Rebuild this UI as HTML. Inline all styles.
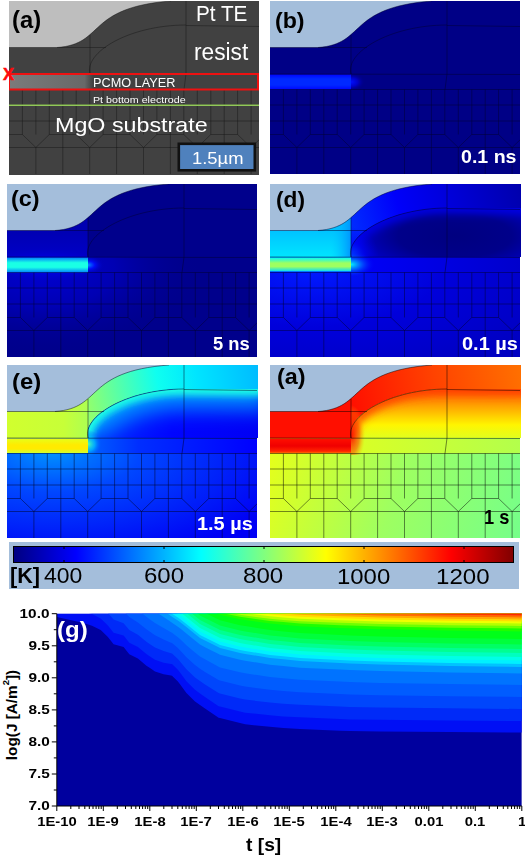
<!DOCTYPE html>
<html><head><meta charset="utf-8"><style>
html,body{margin:0;padding:0;background:#fff;}
body{width:525px;height:859px;position:relative;overflow:hidden;font-family:"Liberation Sans",sans-serif;}
.p{position:absolute;display:block;}
.t{position:absolute;white-space:nowrap;line-height:1;transform-origin:0 0;}
.lbl{font-weight:bold;font-size:23px;color:#000;}
.tm{font-weight:bold;font-size:18px;color:#fff;}
.ax{font-weight:bold;font-size:13.6px;color:#000;}
.axy{transform:scaleX(1.13);transform-origin:100% 50%;}
.axx{transform:scaleX(1.09);transform-origin:50% 50%;}
.ylab{font-weight:bold;font-size:15.3px;color:#000;transform:translate(-50%,-50%) rotate(-90deg);transform-origin:50% 50%;}
.ylab sup{font-size:9.5px;vertical-align:8.5px;line-height:0;}
</style></head><body>
<svg class="p" style="left:9px;top:1px;width:250px;height:174px" viewBox="0 0 250 174" preserveAspectRatio="none"><defs><linearGradient id="pa1" gradientUnits="userSpaceOnUse" x1="0" y1="0" x2="84" y2="0"><stop offset="0" stop-color="#7b7b7b"/><stop offset="0.9" stop-color="#686868"/><stop offset="1" stop-color="#414141"/></linearGradient></defs><rect x="0" y="0" width="250" height="174" fill="#414141"/><rect x="0" y="73" width="84" height="15.5" fill="url(#pa1)"/><path d="M0,0 L0,46.5 L48,46.5 C96.6,43.1 76.1,6.6 162,0 Z" fill="#BEBEBE"/><g fill="none" stroke="#181818" stroke-opacity="0.6" stroke-width="0.8"><path d="M81,73 C75,51.6 119.4,24.2 177,24"/><path d="M81,34 L81,73"/><path d="M0,46.5 L97,46.5"/><path d="M177,0 L177,73 L175,88.5"/><path d="M177,24.5 L250,25.5"/><path d="M0,73 L250,73.5"/><path d="M0,88.5 L250,88.5"/><path d="M0,104 L250,104"/><path d="M0,120 L250,120"/><path d="M0,146.5 L250,146.5"/><path d="M13.4,88.5 L13.4,133.5"/><path d="M26.9,88.5 L26.9,133.5"/><path d="M40.3,88.5 L40.3,133.5"/><path d="M53.8,88.5 L53.8,133.5"/><path d="M67.2,88.5 L67.2,133.5"/><path d="M80.7,88.5 L80.7,133.5"/><path d="M94.1,88.5 L94.1,133.5"/><path d="M107.6,88.5 L107.6,133.5"/><path d="M121.0,88.5 L121.0,133.5"/><path d="M134.5,88.5 L134.5,133.5"/><path d="M147.9,88.5 L147.9,133.5"/><path d="M161.4,88.5 L161.4,133.5"/><path d="M174.8,88.5 L174.8,133.5"/><path d="M188.3,88.5 L188.3,133.5"/><path d="M201.8,88.5 L201.8,133.5"/><path d="M215.2,88.5 L215.2,133.5"/><path d="M228.6,88.5 L228.6,133.5"/><path d="M242.1,88.5 L242.1,133.5"/><path d="M13.4,133.5 L26.9,146.5 L40.3,133.5"/><path d="M67.2,133.5 L80.7,146.5 L94.1,133.5"/><path d="M121.0,133.5 L134.5,146.5 L147.9,133.5"/><path d="M174.8,133.5 L188.3,146.5 L201.8,133.5"/><path d="M228.6,133.5 L242.1,146.5 L250,138.9"/><path d="M0.0,133.5 L13.4,133.5"/><path d="M40.3,133.5 L67.2,133.5"/><path d="M94.1,133.5 L121.0,133.5"/><path d="M147.9,133.5 L174.8,133.5"/><path d="M201.8,133.5 L228.6,133.5"/><path d="M26.9,146.5 L26.9,173"/><path d="M53.8,146.5 L53.8,173"/><path d="M80.7,146.5 L80.7,173"/><path d="M107.6,146.5 L107.6,173"/><path d="M134.5,146.5 L134.5,173"/><path d="M161.4,146.5 L161.4,173"/><path d="M188.3,146.5 L188.3,173"/><path d="M215.2,146.5 L215.2,173"/><path d="M242.1,146.5 L242.1,173"/><path d="M53.8,133.5 L53.8,146.5"/><path d="M107.6,133.5 L107.6,146.5"/><path d="M161.4,133.5 L161.4,146.5"/><path d="M215.2,133.5 L215.2,146.5"/><path d="M48,46.5 C96.6,43.1 76.1,6.6 162,0"/></g><path d="M0,104.3 L250,104.3" stroke="#92C958" stroke-width="1.5"/><rect x="0" y="73" width="249" height="15.5" fill="none" stroke="#EE1111" stroke-width="2"/><rect x="169.8" y="142.8" width="76" height="26.5" fill="#4F81BD" stroke="#111" stroke-width="2.6"/></svg><svg class="p" style="left:270px;top:1px;width:250.5px;height:173px" viewBox="0 0 250.5 173" preserveAspectRatio="none"><defs><linearGradient id="pb1" gradientUnits="userSpaceOnUse" x1="0" y1="73.5" x2="0" y2="88.5"><stop offset="0" stop-color="#0005ff"/><stop offset="0.3" stop-color="#0029ff"/><stop offset="0.7" stop-color="#0029ff"/><stop offset="1" stop-color="#0005ff"/></linearGradient><radialGradient id="pb2" gradientUnits="userSpaceOnUse" cx="0" cy="0" r="1" gradientTransform="translate(81,81) rotate(0) scale(14,9)"><stop offset="0" stop-color="#000fff" stop-opacity="1"/><stop offset="0.5" stop-color="#0000c7" stop-opacity="1"/><stop offset="1" stop-color="#000086" stop-opacity="0"/></radialGradient></defs><rect x="0" y="0" width="250" height="173" fill="#000086"/><rect x="0" y="73.5" width="81" height="15" fill="url(#pb1)"/><rect x="81" y="70" width="20" height="22" fill="url(#pb2)"/><path d="M0,0 L0,46.5 L48,46.5 C96.6,43.1 76.1,6.6 162,0 Z" fill="#A4BEDB"/><g fill="none" stroke="#000030" stroke-opacity="0.6" stroke-width="0.8"><path d="M81,73 C75,51.6 119.4,24.2 177,24"/><path d="M81,34 L81,73"/><path d="M0,46.5 L97,46.5"/><path d="M177,0 L177,73 L175,88.5"/><path d="M177,24.5 L250,25.5"/><path d="M0,73 L250,73.5"/><path d="M0,88.5 L250,88.5"/><path d="M0,104 L250,104"/><path d="M0,120 L250,120"/><path d="M0,146.5 L250,146.5"/><path d="M13.4,88.5 L13.4,133.5"/><path d="M26.9,88.5 L26.9,133.5"/><path d="M40.3,88.5 L40.3,133.5"/><path d="M53.8,88.5 L53.8,133.5"/><path d="M67.2,88.5 L67.2,133.5"/><path d="M80.7,88.5 L80.7,133.5"/><path d="M94.1,88.5 L94.1,133.5"/><path d="M107.6,88.5 L107.6,133.5"/><path d="M121.0,88.5 L121.0,133.5"/><path d="M134.5,88.5 L134.5,133.5"/><path d="M147.9,88.5 L147.9,133.5"/><path d="M161.4,88.5 L161.4,133.5"/><path d="M174.8,88.5 L174.8,133.5"/><path d="M188.3,88.5 L188.3,133.5"/><path d="M201.8,88.5 L201.8,133.5"/><path d="M215.2,88.5 L215.2,133.5"/><path d="M228.6,88.5 L228.6,133.5"/><path d="M242.1,88.5 L242.1,133.5"/><path d="M13.4,133.5 L26.9,146.5 L40.3,133.5"/><path d="M67.2,133.5 L80.7,146.5 L94.1,133.5"/><path d="M121.0,133.5 L134.5,146.5 L147.9,133.5"/><path d="M174.8,133.5 L188.3,146.5 L201.8,133.5"/><path d="M228.6,133.5 L242.1,146.5 L250,138.9"/><path d="M0.0,133.5 L13.4,133.5"/><path d="M40.3,133.5 L67.2,133.5"/><path d="M94.1,133.5 L121.0,133.5"/><path d="M147.9,133.5 L174.8,133.5"/><path d="M201.8,133.5 L228.6,133.5"/><path d="M26.9,146.5 L26.9,173"/><path d="M53.8,146.5 L53.8,173"/><path d="M80.7,146.5 L80.7,173"/><path d="M107.6,146.5 L107.6,173"/><path d="M134.5,146.5 L134.5,173"/><path d="M161.4,146.5 L161.4,173"/><path d="M188.3,146.5 L188.3,173"/><path d="M215.2,146.5 L215.2,173"/><path d="M242.1,146.5 L242.1,173"/><path d="M53.8,133.5 L53.8,146.5"/><path d="M107.6,133.5 L107.6,146.5"/><path d="M161.4,133.5 L161.4,146.5"/><path d="M215.2,133.5 L215.2,146.5"/><path d="M48,46.5 C96.6,43.1 76.1,6.6 162,0"/></g></svg><svg class="p" style="left:7px;top:184px;width:250.5px;height:173px" viewBox="0 0 250.5 173" preserveAspectRatio="none"><defs><radialGradient id="pc1" gradientUnits="userSpaceOnUse" cx="0" cy="0" r="1" gradientTransform="translate(35,85) rotate(0) scale(160,85)"><stop offset="0" stop-color="#0000d6" stop-opacity="1"/><stop offset="0.45" stop-color="#0000bd" stop-opacity="0.8"/><stop offset="1" stop-color="#00008c" stop-opacity="0"/></radialGradient><linearGradient id="pc2" gradientUnits="userSpaceOnUse" x1="0" y1="46" x2="0" y2="73"><stop offset="0" stop-color="#0000b2"/><stop offset="1" stop-color="#0000c7"/></linearGradient><radialGradient id="pc3" gradientUnits="userSpaceOnUse" cx="0" cy="0" r="1" gradientTransform="translate(40,81) rotate(0) scale(70,18)"><stop offset="0" stop-color="#0000fa" stop-opacity="1"/><stop offset="0.6" stop-color="#0000d6" stop-opacity="0.6"/><stop offset="1" stop-color="#0000bd" stop-opacity="0"/></radialGradient><radialGradient id="pc4" gradientUnits="userSpaceOnUse" cx="0" cy="0" r="1" gradientTransform="translate(81,81) rotate(0) scale(17,10)"><stop offset="0" stop-color="#008aff" stop-opacity="1"/><stop offset="0.4" stop-color="#000fff" stop-opacity="0.9"/><stop offset="1" stop-color="#0000a8" stop-opacity="0"/></radialGradient><linearGradient id="pc5" gradientUnits="userSpaceOnUse" x1="0" y1="73.5" x2="0" y2="88.5"><stop offset="0" stop-color="#0080ff"/><stop offset="0.35" stop-color="#1affe5"/><stop offset="0.65" stop-color="#1affe5"/><stop offset="1" stop-color="#0080ff"/></linearGradient></defs><rect x="0" y="0" width="250" height="173" fill="#00008c"/><rect x="0" y="73" width="250" height="100" fill="url(#pc1)"/><rect x="0" y="30" width="81" height="43.5" fill="url(#pc2)"/><rect x="0" y="60" width="81" height="45" fill="url(#pc3)"/><rect x="81" y="66" width="28" height="30" fill="url(#pc4)"/><rect x="0" y="73.5" width="81" height="15" fill="url(#pc5)"/><path d="M0,0 L0,46.5 L48,46.5 C96.6,43.1 76.1,6.6 162,0 Z" fill="#A4BEDB"/><g fill="none" stroke="#000030" stroke-opacity="0.6" stroke-width="0.8"><path d="M81,73 C75,51.6 119.4,24.2 177,24"/><path d="M81,34 L81,73"/><path d="M0,46.5 L97,46.5"/><path d="M177,0 L177,73 L175,88.5"/><path d="M177,24.5 L250,25.5"/><path d="M0,73 L250,73.5"/><path d="M0,88.5 L250,88.5"/><path d="M0,104 L250,104"/><path d="M0,120 L250,120"/><path d="M0,146.5 L250,146.5"/><path d="M13.4,88.5 L13.4,133.5"/><path d="M26.9,88.5 L26.9,133.5"/><path d="M40.3,88.5 L40.3,133.5"/><path d="M53.8,88.5 L53.8,133.5"/><path d="M67.2,88.5 L67.2,133.5"/><path d="M80.7,88.5 L80.7,133.5"/><path d="M94.1,88.5 L94.1,133.5"/><path d="M107.6,88.5 L107.6,133.5"/><path d="M121.0,88.5 L121.0,133.5"/><path d="M134.5,88.5 L134.5,133.5"/><path d="M147.9,88.5 L147.9,133.5"/><path d="M161.4,88.5 L161.4,133.5"/><path d="M174.8,88.5 L174.8,133.5"/><path d="M188.3,88.5 L188.3,133.5"/><path d="M201.8,88.5 L201.8,133.5"/><path d="M215.2,88.5 L215.2,133.5"/><path d="M228.6,88.5 L228.6,133.5"/><path d="M242.1,88.5 L242.1,133.5"/><path d="M13.4,133.5 L26.9,146.5 L40.3,133.5"/><path d="M67.2,133.5 L80.7,146.5 L94.1,133.5"/><path d="M121.0,133.5 L134.5,146.5 L147.9,133.5"/><path d="M174.8,133.5 L188.3,146.5 L201.8,133.5"/><path d="M228.6,133.5 L242.1,146.5 L250,138.9"/><path d="M0.0,133.5 L13.4,133.5"/><path d="M40.3,133.5 L67.2,133.5"/><path d="M94.1,133.5 L121.0,133.5"/><path d="M147.9,133.5 L174.8,133.5"/><path d="M201.8,133.5 L228.6,133.5"/><path d="M26.9,146.5 L26.9,173"/><path d="M53.8,146.5 L53.8,173"/><path d="M80.7,146.5 L80.7,173"/><path d="M107.6,146.5 L107.6,173"/><path d="M134.5,146.5 L134.5,173"/><path d="M161.4,146.5 L161.4,173"/><path d="M188.3,146.5 L188.3,173"/><path d="M215.2,146.5 L215.2,173"/><path d="M242.1,146.5 L242.1,173"/><path d="M53.8,133.5 L53.8,146.5"/><path d="M107.6,133.5 L107.6,146.5"/><path d="M161.4,133.5 L161.4,146.5"/><path d="M215.2,133.5 L215.2,146.5"/><path d="M48,46.5 C96.6,43.1 76.1,6.6 162,0"/></g></svg><svg class="p" style="left:270px;top:184px;width:250.5px;height:172.5px" viewBox="0 0 250.5 172.5" preserveAspectRatio="none"><defs><radialGradient id="pd1" gradientUnits="userSpaceOnUse" cx="0" cy="0" r="1" gradientTransform="translate(40,88) rotate(0) scale(260,110)"><stop offset="0" stop-color="#0019ff"/><stop offset="0.5" stop-color="#0000db"/><stop offset="1" stop-color="#0000c2"/></radialGradient><linearGradient id="pd2" gradientUnits="userSpaceOnUse" x1="81" y1="50" x2="250" y2="0"><stop offset="0" stop-color="#002eff"/><stop offset="0.3" stop-color="#0000fa"/><stop offset="1" stop-color="#0000ad"/></linearGradient><radialGradient id="pd3" gradientUnits="userSpaceOnUse" cx="0" cy="0" r="1" gradientTransform="translate(185,52) rotate(0) scale(95,36)"><stop offset="0" stop-color="#000080"/><stop offset="0.6" stop-color="#00008a"/><stop offset="1" stop-color="#0000bd"/></radialGradient><filter id="pd4" x="-50%" y="-50%" width="200%" height="200%"><feGaussianBlur stdDeviation="4"/></filter><clipPath id="pd5"><path d="M81,73 C75,51.6 119.4,24.2 177,24 L260,24 L260,73 Z"/></clipPath><radialGradient id="pd6" gradientUnits="userSpaceOnUse" cx="0" cy="0" r="1" gradientTransform="translate(81,73) rotate(0) scale(28,30)"><stop offset="0" stop-color="#004dff" stop-opacity="1"/><stop offset="0.5" stop-color="#0005ff" stop-opacity="0.6"/><stop offset="1" stop-color="#0000e6" stop-opacity="0"/></radialGradient><linearGradient id="pd7" gradientUnits="userSpaceOnUse" x1="81" y1="0" x2="250" y2="0"><stop offset="0" stop-color="#0000fa"/><stop offset="1" stop-color="#0000cc"/></linearGradient><linearGradient id="pd8" gradientUnits="userSpaceOnUse" x1="0" y1="46" x2="0" y2="73"><stop offset="0" stop-color="#00c2ff"/><stop offset="1" stop-color="#00e5ff"/></linearGradient><linearGradient id="pd9" gradientUnits="userSpaceOnUse" x1="60" y1="0" x2="81" y2="0"><stop offset="0" stop-color="#00c7ff" stop-opacity="0"/><stop offset="1" stop-color="#0094ff" stop-opacity="1"/></linearGradient><radialGradient id="pd10" gradientUnits="userSpaceOnUse" cx="0" cy="0" r="1" gradientTransform="translate(81,80.5) rotate(0) scale(24,13)"><stop offset="0" stop-color="#00f0ff" stop-opacity="1"/><stop offset="0.45" stop-color="#0061ff" stop-opacity="0.85"/><stop offset="1" stop-color="#0000fa" stop-opacity="0"/></radialGradient><linearGradient id="pd11" gradientUnits="userSpaceOnUse" x1="0" y1="73.5" x2="0" y2="87.5"><stop offset="0" stop-color="#00faff"/><stop offset="0.4" stop-color="#9eff61"/><stop offset="0.65" stop-color="#9eff61"/><stop offset="1" stop-color="#00dbff"/></linearGradient></defs><rect x="0" y="0" width="250" height="173" fill="url(#pd1)"/><path d="M81,0 L260,0 L260,24 L177,24 C119.4,24.2 75,51.6 81,73 Z" fill="url(#pd2)"/><path d="M81,73 C75,51.6 119.4,24.2 177,24 L260,24 L260,73 Z" fill="url(#pd3)"/><g clip-path="url(#pd5)"><path d="M81,73 C75,51.6 119.4,24.2 177,24 L262,24.5" fill="none" stroke="#0000f0" stroke-opacity="0.9" stroke-width="10" filter="url(#pd4)"/></g><rect x="81" y="35" width="45" height="40" fill="url(#pd6)"/><rect x="81" y="73.5" width="169" height="15" fill="url(#pd7)"/><rect x="0" y="30" width="81" height="43.5" fill="url(#pd8)"/><rect x="60" y="30" width="21" height="43.5" fill="url(#pd9)"/><rect x="81" y="60" width="40" height="40" fill="url(#pd10)"/><rect x="0" y="73.5" width="81" height="14" fill="url(#pd11)"/><path d="M0,0 L0,46.5 L48,46.5 C96.6,43.1 76.1,6.6 162,0 Z" fill="#A4BEDB"/><g fill="none" stroke="#000030" stroke-opacity="0.6" stroke-width="0.8"><path d="M81,73 C75,51.6 119.4,24.2 177,24"/><path d="M81,34 L81,73"/><path d="M0,46.5 L97,46.5"/><path d="M177,0 L177,73 L175,88.5"/><path d="M177,24.5 L250,25.5"/><path d="M0,73 L250,73.5"/><path d="M0,88.5 L250,88.5"/><path d="M0,104 L250,104"/><path d="M0,120 L250,120"/><path d="M0,146.5 L250,146.5"/><path d="M13.4,88.5 L13.4,133.5"/><path d="M26.9,88.5 L26.9,133.5"/><path d="M40.3,88.5 L40.3,133.5"/><path d="M53.8,88.5 L53.8,133.5"/><path d="M67.2,88.5 L67.2,133.5"/><path d="M80.7,88.5 L80.7,133.5"/><path d="M94.1,88.5 L94.1,133.5"/><path d="M107.6,88.5 L107.6,133.5"/><path d="M121.0,88.5 L121.0,133.5"/><path d="M134.5,88.5 L134.5,133.5"/><path d="M147.9,88.5 L147.9,133.5"/><path d="M161.4,88.5 L161.4,133.5"/><path d="M174.8,88.5 L174.8,133.5"/><path d="M188.3,88.5 L188.3,133.5"/><path d="M201.8,88.5 L201.8,133.5"/><path d="M215.2,88.5 L215.2,133.5"/><path d="M228.6,88.5 L228.6,133.5"/><path d="M242.1,88.5 L242.1,133.5"/><path d="M13.4,133.5 L26.9,146.5 L40.3,133.5"/><path d="M67.2,133.5 L80.7,146.5 L94.1,133.5"/><path d="M121.0,133.5 L134.5,146.5 L147.9,133.5"/><path d="M174.8,133.5 L188.3,146.5 L201.8,133.5"/><path d="M228.6,133.5 L242.1,146.5 L250,138.9"/><path d="M0.0,133.5 L13.4,133.5"/><path d="M40.3,133.5 L67.2,133.5"/><path d="M94.1,133.5 L121.0,133.5"/><path d="M147.9,133.5 L174.8,133.5"/><path d="M201.8,133.5 L228.6,133.5"/><path d="M26.9,146.5 L26.9,173"/><path d="M53.8,146.5 L53.8,173"/><path d="M80.7,146.5 L80.7,173"/><path d="M107.6,146.5 L107.6,173"/><path d="M134.5,146.5 L134.5,173"/><path d="M161.4,146.5 L161.4,173"/><path d="M188.3,146.5 L188.3,173"/><path d="M215.2,146.5 L215.2,173"/><path d="M242.1,146.5 L242.1,173"/><path d="M53.8,133.5 L53.8,146.5"/><path d="M107.6,133.5 L107.6,146.5"/><path d="M161.4,133.5 L161.4,146.5"/><path d="M215.2,133.5 L215.2,146.5"/><path d="M48,46.5 C96.6,43.1 76.1,6.6 162,0"/></g></svg><svg class="p" style="left:7px;top:365px;width:250.5px;height:173px" viewBox="0 0 250.5 173" preserveAspectRatio="none"><defs><radialGradient id="pe1" gradientUnits="userSpaceOnUse" cx="0" cy="0" r="1" gradientTransform="translate(45,88) rotate(0) scale(250,110)"><stop offset="0" stop-color="#008fff"/><stop offset="0.35" stop-color="#0047ff"/><stop offset="1" stop-color="#0000f5"/></radialGradient><linearGradient id="pe2" gradientUnits="userSpaceOnUse" x1="82" y1="40" x2="250" y2="10"><stop offset="0" stop-color="#8fff70"/><stop offset="0.2" stop-color="#52ffad"/><stop offset="0.42" stop-color="#0ffff0"/><stop offset="0.65" stop-color="#00e5ff"/><stop offset="1" stop-color="#00bdff"/></linearGradient><linearGradient id="pe3" gradientUnits="userSpaceOnUse" x1="81" y1="0" x2="250" y2="0"><stop offset="0" stop-color="#002eff"/><stop offset="0.5" stop-color="#0005ff"/><stop offset="1" stop-color="#0000f5"/></linearGradient><filter id="pe4" x="-50%" y="-50%" width="200%" height="200%"><feGaussianBlur stdDeviation="10"/></filter><clipPath id="pe5"><path d="M81,73 C75,51.6 119.4,24.2 177,24 L260,24 L260,73 Z"/></clipPath><filter id="pe6" x="-50%" y="-50%" width="200%" height="200%"><feGaussianBlur stdDeviation="3.5"/></filter><clipPath id="pe7"><path d="M81,73 C75,51.6 119.4,24.2 177,24 L260,24 L260,73 Z"/></clipPath><filter id="pe8" x="-50%" y="-50%" width="200%" height="200%"><feGaussianBlur stdDeviation="7"/></filter><clipPath id="pe9"><path d="M81,73 C75,51.6 119.4,24.2 177,24 L260,24 L260,73 Z"/></clipPath><linearGradient id="pe10" gradientUnits="userSpaceOnUse" x1="81" y1="0" x2="250" y2="0"><stop offset="0" stop-color="#0061ff"/><stop offset="0.3" stop-color="#002eff"/><stop offset="1" stop-color="#0000ff"/></linearGradient><radialGradient id="pe11" gradientUnits="userSpaceOnUse" cx="0" cy="0" r="1" gradientTransform="translate(81,79) rotate(0) scale(14,14)"><stop offset="0" stop-color="#4dffb2" stop-opacity="1"/><stop offset="0.5" stop-color="#00c7ff" stop-opacity="0.7"/><stop offset="1" stop-color="#004dff" stop-opacity="0"/></radialGradient><linearGradient id="pe12" gradientUnits="userSpaceOnUse" x1="0" y1="0" x2="81" y2="0"><stop offset="0" stop-color="#d1ff2e"/><stop offset="0.7" stop-color="#c7ff38"/><stop offset="1" stop-color="#adff52"/></linearGradient><linearGradient id="pe13" gradientUnits="userSpaceOnUse" x1="0" y1="73.5" x2="0" y2="88"><stop offset="0" stop-color="#e5ff1a"/><stop offset="0.45" stop-color="#ffeb00"/><stop offset="0.7" stop-color="#ffeb00"/><stop offset="1" stop-color="#d1ff2e"/></linearGradient></defs><rect x="0" y="0" width="250" height="173" fill="url(#pe1)"/><path d="M81,0 L260,0 L260,24 L177,24 C119.4,24.2 75,51.6 81,73 Z" fill="url(#pe2)"/><path d="M81,73 C75,51.6 119.4,24.2 177,24 L260,24 L260,73 Z" fill="url(#pe3)"/><g clip-path="url(#pe5)"><path d="M81,73 C75,51.6 119.4,24.2 177,24 L262,24.5" fill="none" stroke="#009eff" stroke-opacity="0.9" stroke-width="40" filter="url(#pe4)"/></g><g clip-path="url(#pe7)"><path d="M81,73 C75,51.6 119.4,24.2 177,24 L262,24.5" fill="none" stroke="#1affe5" stroke-opacity="1.0" stroke-width="12" filter="url(#pe6)"/></g><g clip-path="url(#pe9)"><path d="M81,40 L81,88" fill="none" stroke="#00f0ff" stroke-opacity="0.9" stroke-width="24" filter="url(#pe8)"/></g><rect x="81" y="73.5" width="169" height="15" fill="url(#pe10)"/><rect x="81" y="60" width="30" height="35" fill="url(#pe11)"/><rect x="0" y="30" width="81" height="43.5" fill="url(#pe12)"/><rect x="0" y="73.5" width="81" height="14.5" fill="url(#pe13)"/><path d="M0,0 L0,46.5 L48,46.5 C96.6,43.1 76.1,6.6 162,0 Z" fill="#A4BEDB"/><g fill="none" stroke="#000020" stroke-opacity="0.6" stroke-width="0.8"><path d="M81,73 C75,51.6 119.4,24.2 177,24"/><path d="M81,34 L81,73"/><path d="M0,46.5 L97,46.5"/><path d="M177,0 L177,73 L175,88.5"/><path d="M177,24.5 L250,25.5"/><path d="M0,73 L250,73.5"/><path d="M0,88.5 L250,88.5"/><path d="M0,104 L250,104"/><path d="M0,120 L250,120"/><path d="M0,146.5 L250,146.5"/><path d="M13.4,88.5 L13.4,133.5"/><path d="M26.9,88.5 L26.9,133.5"/><path d="M40.3,88.5 L40.3,133.5"/><path d="M53.8,88.5 L53.8,133.5"/><path d="M67.2,88.5 L67.2,133.5"/><path d="M80.7,88.5 L80.7,133.5"/><path d="M94.1,88.5 L94.1,133.5"/><path d="M107.6,88.5 L107.6,133.5"/><path d="M121.0,88.5 L121.0,133.5"/><path d="M134.5,88.5 L134.5,133.5"/><path d="M147.9,88.5 L147.9,133.5"/><path d="M161.4,88.5 L161.4,133.5"/><path d="M174.8,88.5 L174.8,133.5"/><path d="M188.3,88.5 L188.3,133.5"/><path d="M201.8,88.5 L201.8,133.5"/><path d="M215.2,88.5 L215.2,133.5"/><path d="M228.6,88.5 L228.6,133.5"/><path d="M242.1,88.5 L242.1,133.5"/><path d="M13.4,133.5 L26.9,146.5 L40.3,133.5"/><path d="M67.2,133.5 L80.7,146.5 L94.1,133.5"/><path d="M121.0,133.5 L134.5,146.5 L147.9,133.5"/><path d="M174.8,133.5 L188.3,146.5 L201.8,133.5"/><path d="M228.6,133.5 L242.1,146.5 L250,138.9"/><path d="M0.0,133.5 L13.4,133.5"/><path d="M40.3,133.5 L67.2,133.5"/><path d="M94.1,133.5 L121.0,133.5"/><path d="M147.9,133.5 L174.8,133.5"/><path d="M201.8,133.5 L228.6,133.5"/><path d="M26.9,146.5 L26.9,173"/><path d="M53.8,146.5 L53.8,173"/><path d="M80.7,146.5 L80.7,173"/><path d="M107.6,146.5 L107.6,173"/><path d="M134.5,146.5 L134.5,173"/><path d="M161.4,146.5 L161.4,173"/><path d="M188.3,146.5 L188.3,173"/><path d="M215.2,146.5 L215.2,173"/><path d="M242.1,146.5 L242.1,173"/><path d="M53.8,133.5 L53.8,146.5"/><path d="M107.6,133.5 L107.6,146.5"/><path d="M161.4,133.5 L161.4,146.5"/><path d="M215.2,133.5 L215.2,146.5"/><path d="M48,46.5 C96.6,43.1 76.1,6.6 162,0"/></g></svg><svg class="p" style="left:270px;top:365px;width:251px;height:172.5px" viewBox="0 0 251 172.5" preserveAspectRatio="none"><defs><linearGradient id="pf1" gradientUnits="userSpaceOnUse" x1="0" y1="88" x2="250" y2="173"><stop offset="0" stop-color="#e5ff1a"/><stop offset="0.5" stop-color="#9eff61"/><stop offset="1" stop-color="#75ff8a"/></linearGradient><linearGradient id="pf2" gradientUnits="userSpaceOnUse" x1="81" y1="40" x2="250" y2="0"><stop offset="0" stop-color="#ff0f00"/><stop offset="0.5" stop-color="#ff4200"/><stop offset="1" stop-color="#ff7000"/></linearGradient><linearGradient id="pf3" gradientUnits="userSpaceOnUse" x1="0" y1="26" x2="0" y2="73"><stop offset="0" stop-color="#ff6100"/><stop offset="0.3" stop-color="#ff9e00"/><stop offset="0.72" stop-color="#fff500"/><stop offset="1" stop-color="#e0ff1f"/></linearGradient><filter id="pf4" x="-50%" y="-50%" width="200%" height="200%"><feGaussianBlur stdDeviation="4"/></filter><clipPath id="pf5"><path d="M81,73 C75,51.6 119.4,24.2 177,24 L260,24 L260,73 Z"/></clipPath><linearGradient id="pf6" gradientUnits="userSpaceOnUse" x1="81" y1="0" x2="250" y2="0"><stop offset="0" stop-color="#dbff24"/><stop offset="1" stop-color="#b3ff4c"/></linearGradient><radialGradient id="pf7" gradientUnits="userSpaceOnUse" cx="0" cy="0" r="1" gradientTransform="translate(81,70) rotate(0) scale(14,30)"><stop offset="0" stop-color="#ff0f00" stop-opacity="1"/><stop offset="0.6" stop-color="#ff4c00" stop-opacity="0.6"/><stop offset="1" stop-color="#ffb300" stop-opacity="0"/></radialGradient><linearGradient id="pf8" gradientUnits="userSpaceOnUse" x1="0" y1="73.5" x2="0" y2="88.5"><stop offset="0" stop-color="#ff0f00"/><stop offset="0.5" stop-color="#f00000"/><stop offset="0.85" stop-color="#ff2400"/><stop offset="1" stop-color="#ff8000"/></linearGradient></defs><rect x="0" y="0" width="250" height="173" fill="url(#pf1)"/><path d="M81,0 L260,0 L260,24 L177,24 C119.4,24.2 75,51.6 81,73 Z" fill="url(#pf2)"/><path d="M81,73 C75,51.6 119.4,24.2 177,24 L260,24 L260,73 Z" fill="url(#pf3)"/><g clip-path="url(#pf5)"><path d="M81,73 C75,51.6 119.4,24.2 177,24 L262,24.5" fill="none" stroke="#ff3800" stroke-opacity="0.9" stroke-width="10" filter="url(#pf4)"/></g><rect x="81" y="73.5" width="169" height="15" fill="url(#pf6)"/><rect x="81" y="30" width="40" height="60" fill="url(#pf7)"/><rect x="0" y="30" width="81" height="43.5" fill="#ff0f00"/><rect x="0" y="73.5" width="81" height="15" fill="url(#pf8)"/><path d="M0,0 L0,46.5 L48,46.5 C96.6,43.1 76.1,6.6 162,0 Z" fill="#A4BEDB"/><g fill="none" stroke="#000" stroke-opacity="0.6" stroke-width="0.8"><path d="M81,73 C75,51.6 119.4,24.2 177,24"/><path d="M81,34 L81,73"/><path d="M0,46.5 L97,46.5"/><path d="M177,0 L177,73 L175,88.5"/><path d="M177,24.5 L250,25.5"/><path d="M0,73 L250,73.5"/><path d="M0,88.5 L250,88.5"/><path d="M0,104 L250,104"/><path d="M0,120 L250,120"/><path d="M0,146.5 L250,146.5"/><path d="M13.4,88.5 L13.4,133.5"/><path d="M26.9,88.5 L26.9,133.5"/><path d="M40.3,88.5 L40.3,133.5"/><path d="M53.8,88.5 L53.8,133.5"/><path d="M67.2,88.5 L67.2,133.5"/><path d="M80.7,88.5 L80.7,133.5"/><path d="M94.1,88.5 L94.1,133.5"/><path d="M107.6,88.5 L107.6,133.5"/><path d="M121.0,88.5 L121.0,133.5"/><path d="M134.5,88.5 L134.5,133.5"/><path d="M147.9,88.5 L147.9,133.5"/><path d="M161.4,88.5 L161.4,133.5"/><path d="M174.8,88.5 L174.8,133.5"/><path d="M188.3,88.5 L188.3,133.5"/><path d="M201.8,88.5 L201.8,133.5"/><path d="M215.2,88.5 L215.2,133.5"/><path d="M228.6,88.5 L228.6,133.5"/><path d="M242.1,88.5 L242.1,133.5"/><path d="M13.4,133.5 L26.9,146.5 L40.3,133.5"/><path d="M67.2,133.5 L80.7,146.5 L94.1,133.5"/><path d="M121.0,133.5 L134.5,146.5 L147.9,133.5"/><path d="M174.8,133.5 L188.3,146.5 L201.8,133.5"/><path d="M228.6,133.5 L242.1,146.5 L250,138.9"/><path d="M0.0,133.5 L13.4,133.5"/><path d="M40.3,133.5 L67.2,133.5"/><path d="M94.1,133.5 L121.0,133.5"/><path d="M147.9,133.5 L174.8,133.5"/><path d="M201.8,133.5 L228.6,133.5"/><path d="M26.9,146.5 L26.9,173"/><path d="M53.8,146.5 L53.8,173"/><path d="M80.7,146.5 L80.7,173"/><path d="M107.6,146.5 L107.6,173"/><path d="M134.5,146.5 L134.5,173"/><path d="M161.4,146.5 L161.4,173"/><path d="M188.3,146.5 L188.3,173"/><path d="M215.2,146.5 L215.2,173"/><path d="M242.1,146.5 L242.1,173"/><path d="M53.8,133.5 L53.8,146.5"/><path d="M107.6,133.5 L107.6,146.5"/><path d="M161.4,133.5 L161.4,146.5"/><path d="M215.2,133.5 L215.2,146.5"/><path d="M48,46.5 C96.6,43.1 76.1,6.6 162,0"/></g></svg>
<!-- colorbar -->
<div style="position:absolute;left:9px;top:542px;width:510px;height:47px;background:#A4BEDB;"></div>
<svg class="p" style="left:13px;top:546px;width:501px;height:17px" viewBox="0 0 501 17">
<defs><linearGradient id="jet" x1="0" x2="1" y1="0" y2="0"><stop offset="0" stop-color="#000080"/><stop offset="0.125" stop-color="#0000ff"/><stop offset="0.375" stop-color="#00ffff"/><stop offset="0.625" stop-color="#ffff00"/><stop offset="0.875" stop-color="#ff0000"/><stop offset="1" stop-color="#800000"/></linearGradient></defs>
<rect x="0.5" y="0.5" width="500" height="16" fill="url(#jet)" stroke="#000" stroke-width="1"/>
<g stroke="#000" stroke-width="1"><path d="M51,0 L51,3 M51,14 L51,17"/><path d="M151,0 L151,3 M151,14 L151,17"/><path d="M251,0 L251,3 M251,14 L251,17"/><path d="M351,0 L351,3 M351,14 L351,17"/><path d="M451,0 L451,3 M451,14 L451,17"/></g>
</svg>

<svg class="p" style="left:0;top:595px;width:525px;height:264px" viewBox="0 595 525 264"><defs><clipPath id="chartclip"><rect x="56.8" y="613.7" width="465.0" height="192.3"/></clipPath></defs><g clip-path="url(#chartclip)"><rect x="56.8" y="613.7" width="465.0" height="192.3" fill="#00009e"/><path d="M56.8,583.7 L56.8,617.1 83.6,622.9 92.0,625.7 100.7,630.0 107.9,637.0 113.6,644.3 123.6,647.0 124.0,647.5 129.3,654.3 137.9,658.6 146.4,665.7 150.0,668.1 155.0,671.4 163.6,674.3 171.0,675.5 172.0,675.7 177.9,681.4 180.0,684.2 186.4,692.9 195.0,701.4 200.0,705.0 205.0,708.6 218.6,717.8 220.0,718.1 240.0,723.0 245.2,724.3 270.0,726.8 283.3,728.1 300.0,728.9 340.0,730.7 350.0,731.1 380.0,731.4 450.0,732.0 521.8,732.6 L521.8,583.7 Z" fill="#000ff5"/><path d="M56.8,583.7 L56.8,605.5 83.6,611.3 92.0,614.1 100.7,618.4 107.9,625.4 113.6,632.7 123.6,635.4 124.0,635.9 129.3,642.7 137.9,647.0 146.4,654.1 150.0,656.5 155.0,659.8 163.6,662.7 171.0,663.9 172.0,664.1 177.9,669.8 180.0,672.6 186.4,681.3 195.0,689.8 200.0,693.4 205.0,697.0 218.6,706.2 220.0,706.5 240.0,711.4 245.2,712.7 270.0,715.2 283.3,716.5 300.0,717.3 340.0,719.1 350.0,719.5 380.0,719.8 450.0,720.4 521.8,721.0 L521.8,583.7 Z" fill="#002af8"/><path d="M56.8,583.7 L56.8,593.5 83.6,599.3 92.0,602.3 100.7,606.4 107.9,613.0 113.6,619.6 123.6,623.2 124.0,623.7 129.3,629.9 137.9,634.7 146.4,641.7 150.0,644.2 155.0,647.5 163.6,651.1 171.0,653.3 172.0,653.5 177.9,658.9 180.0,661.4 186.4,669.3 195.0,677.4 200.0,681.1 205.0,684.5 218.6,693.1 220.0,693.5 240.0,698.5 245.2,699.6 270.0,702.5 283.3,703.8 300.0,704.8 340.0,706.6 350.0,707.0 380.0,707.5 450.0,708.3 521.8,709.0 L521.8,583.7 Z" fill="#0046fc"/><path d="M56.8,583.7 L56.8,583.7 83.6,587.3 92.0,590.4 100.7,594.4 107.9,600.5 113.6,606.3 123.6,611.1 124.0,611.5 129.3,617.0 137.9,622.4 146.4,629.2 150.0,631.8 155.0,635.2 163.6,639.6 171.0,642.7 172.0,643.1 177.9,648.0 180.0,650.2 186.4,657.2 195.0,665.0 200.0,668.8 205.0,671.9 218.6,679.9 220.0,680.5 240.0,685.4 245.2,686.5 270.0,689.7 283.3,691.0 300.0,692.2 340.0,694.1 350.0,694.5 380.0,695.2 450.0,696.2 521.8,697.0 L521.8,583.7 Z" fill="#005cff"/><path d="M56.8,583.7 L56.8,583.7 83.6,583.7 92.0,583.7 100.7,583.7 107.9,588.1 113.6,593.1 123.6,598.9 124.0,599.3 129.3,604.2 137.9,610.1 146.4,616.8 150.0,619.4 155.0,622.9 163.6,628.1 171.0,632.2 172.0,632.7 177.9,637.2 180.0,639.0 186.4,645.2 195.0,652.5 200.0,656.4 205.0,659.2 218.6,666.8 220.0,667.4 240.0,672.3 245.2,673.3 270.0,677.0 283.3,678.3 300.0,679.7 340.0,681.6 350.0,682.0 380.0,682.9 450.0,684.1 521.8,685.0 L521.8,583.7 Z" fill="#0073ff"/><path d="M56.8,583.7 L56.8,583.7 83.6,583.7 92.0,583.7 100.7,583.7 107.9,583.7 113.6,583.7 123.6,587.3 124.0,587.6 129.3,591.8 137.9,598.3 146.4,604.9 150.0,607.6 155.0,611.2 163.6,617.1 171.0,622.1 172.0,622.7 177.9,626.8 180.0,628.3 186.4,633.6 195.0,640.6 200.0,644.6 205.0,647.2 218.6,654.1 220.0,654.8 240.0,659.8 245.2,660.7 270.0,664.7 283.3,666.1 300.0,667.7 340.0,669.6 350.0,670.0 380.0,671.1 450.0,672.5 521.8,673.5 L521.8,583.7 Z" fill="#0096ff"/><path d="M56.8,583.7 L56.8,583.7 83.6,583.7 92.0,583.7 100.7,583.7 107.9,583.7 113.6,583.7 123.6,583.7 124.0,583.7 129.3,585.1 137.9,591.7 146.4,598.2 150.0,601.0 155.0,604.6 163.6,610.7 171.0,616.0 172.0,616.7 177.9,620.6 180.0,622.0 186.4,627.1 195.0,634.0 200.0,638.0 205.0,640.5 218.6,647.3 220.0,648.0 240.0,653.0 245.2,653.9 270.0,658.0 283.3,659.3 300.0,661.0 340.0,663.0 350.0,663.4 380.0,664.5 450.0,666.0 521.8,667.0 L521.8,583.7 Z" fill="#00c3ff"/><path d="M56.8,583.7 L56.8,583.7 83.6,583.7 92.0,583.7 100.7,583.7 107.9,583.7 113.6,583.7 123.6,583.7 124.0,583.7 129.3,583.7 137.9,588.7 146.4,595.2 150.0,598.0 155.0,601.6 163.6,607.7 171.0,613.0 172.0,613.7 177.9,617.6 180.0,619.0 186.4,624.1 195.0,631.0 200.0,635.0 205.0,637.5 218.6,644.3 220.0,645.0 240.0,650.0 245.2,650.9 270.0,655.0 283.3,656.3 300.0,658.0 340.0,660.0 350.0,660.4 380.0,661.5 450.0,663.0 521.8,664.0 L521.8,583.7 Z" fill="#00f0ff"/><path d="M56.8,583.7 L56.8,583.7 83.6,583.7 92.0,583.7 100.7,583.7 107.9,583.7 113.6,583.7 123.6,583.7 124.0,583.7 129.3,583.7 137.9,585.2 146.4,591.7 150.0,594.5 155.0,598.1 163.6,604.2 171.0,609.5 172.0,610.2 177.9,614.1 180.0,615.5 186.4,620.6 195.0,627.5 200.0,631.5 205.0,634.0 218.6,640.8 220.0,641.5 240.0,646.5 245.2,647.4 270.0,651.5 283.3,652.8 300.0,654.5 340.0,656.5 350.0,656.9 380.0,658.0 450.0,659.5 521.8,660.5 L521.8,583.7 Z" fill="#00ffe6"/><path d="M56.8,583.7 L56.8,583.7 83.6,583.7 92.0,583.7 100.7,583.7 107.9,583.7 113.6,583.7 123.6,583.7 124.0,583.7 129.3,583.7 137.9,583.7 146.4,588.2 150.0,591.0 155.0,594.6 163.6,600.7 171.0,606.0 172.0,606.7 177.9,610.6 180.0,612.0 186.4,617.1 195.0,624.0 200.0,628.0 205.0,630.5 218.6,637.3 220.0,638.0 240.0,643.0 245.2,643.9 270.0,648.0 283.3,649.3 300.0,651.0 340.0,653.0 350.0,653.4 380.0,654.5 450.0,656.0 521.8,657.0 L521.8,583.7 Z" fill="#00ffbe"/><path d="M56.8,583.7 L56.8,583.7 83.6,583.7 92.0,583.7 100.7,583.7 107.9,583.7 113.6,583.7 123.6,583.7 124.0,583.7 129.3,583.7 137.9,583.7 146.4,584.2 150.0,587.0 155.0,590.6 163.6,596.7 171.0,602.0 172.0,602.7 177.9,606.6 180.0,608.0 186.4,613.1 195.0,620.0 200.0,624.0 205.0,626.5 218.6,633.3 220.0,634.0 240.0,639.0 245.2,639.9 270.0,644.0 283.3,645.3 300.0,647.0 340.0,649.0 350.0,649.4 380.0,650.5 450.0,652.0 521.8,653.0 L521.8,583.7 Z" fill="#00ff91"/><path d="M56.8,583.7 L56.8,583.7 83.6,583.7 92.0,583.7 100.7,583.7 107.9,583.7 113.6,583.7 123.6,583.7 124.0,583.7 129.3,583.7 137.9,583.7 146.4,583.7 150.0,583.7 155.0,586.6 163.6,592.7 171.0,598.0 172.0,598.7 177.9,602.6 180.0,604.0 186.4,609.1 195.0,616.0 200.0,620.0 205.0,622.5 218.6,629.3 220.0,630.0 240.0,635.0 245.2,635.9 270.0,640.0 283.3,641.3 300.0,643.0 340.0,645.0 350.0,645.4 380.0,646.5 450.0,648.0 521.8,649.0 L521.8,583.7 Z" fill="#00ff64"/><path d="M56.8,583.7 L56.8,583.7 83.6,583.7 92.0,583.7 100.7,583.7 107.9,583.7 113.6,583.7 123.6,583.7 124.0,583.7 129.3,583.7 137.9,583.7 146.4,583.7 150.0,583.7 155.0,583.7 163.6,588.2 171.0,593.5 172.0,594.2 177.9,598.1 180.0,599.5 186.4,604.6 195.0,611.5 200.0,615.5 205.0,618.0 218.6,624.8 220.0,625.5 240.0,630.5 245.2,631.4 270.0,635.5 283.3,636.8 300.0,638.5 340.0,640.5 350.0,640.9 380.0,642.0 450.0,643.5 521.8,644.5 L521.8,583.7 Z" fill="#00ff3c"/><path d="M56.8,583.7 L56.8,583.7 83.6,583.7 92.0,583.7 100.7,583.7 107.9,583.7 113.6,583.7 123.6,583.7 124.0,583.7 129.3,583.7 137.9,583.7 146.4,583.7 150.0,583.7 155.0,583.7 163.6,583.7 171.0,588.0 172.0,588.7 177.9,592.6 180.0,594.0 186.4,599.1 195.0,606.0 200.0,610.0 205.0,612.9 218.6,619.6 220.0,620.3 240.0,625.2 245.2,626.1 270.0,630.1 283.3,631.4 300.0,633.1 340.0,635.1 350.0,635.4 380.0,636.5 450.0,638.0 521.8,639.0 L521.8,583.7 Z" fill="#00ff19"/><path d="M56.8,583.7 L56.8,583.7 83.6,583.7 92.0,583.7 100.7,583.7 107.9,583.7 113.6,583.7 123.6,583.7 124.0,583.7 129.3,583.7 137.9,583.7 146.4,583.7 150.0,583.7 155.0,583.7 163.6,583.7 171.0,583.7 172.0,583.7 177.9,585.1 180.0,586.5 186.4,591.6 195.0,598.5 200.0,602.5 205.0,608.2 218.6,614.2 220.0,614.8 240.0,619.2 245.2,620.0 270.0,623.6 283.3,624.8 300.0,626.2 340.0,628.0 350.0,628.3 380.0,629.3 450.0,630.6 521.8,631.5 L521.8,583.7 Z" fill="#1eff00"/><path d="M56.8,583.7 L56.8,583.7 83.6,583.7 92.0,583.7 100.7,583.7 107.9,583.7 113.6,583.7 123.6,583.7 124.0,583.7 129.3,583.7 137.9,583.7 146.4,583.7 150.0,583.7 155.0,583.7 163.6,583.7 171.0,583.7 172.0,583.7 177.9,583.7 180.0,583.7 186.4,588.6 195.0,595.5 200.0,599.5 205.0,606.4 218.6,612.0 220.0,612.6 240.0,616.8 245.2,617.5 270.0,621.0 283.3,622.1 300.0,623.5 340.0,625.2 350.0,625.5 380.0,626.4 450.0,627.7 521.8,628.5 L521.8,583.7 Z" fill="#6eff00"/><path d="M56.8,583.7 L56.8,583.7 83.6,583.7 92.0,583.7 100.7,583.7 107.9,583.7 113.6,583.7 123.6,583.7 124.0,583.7 129.3,583.7 137.9,583.7 146.4,583.7 150.0,583.7 155.0,583.7 163.6,583.7 171.0,583.7 172.0,583.7 177.9,583.7 180.0,583.7 186.4,586.1 195.0,593.0 200.0,597.0 205.0,604.8 218.6,610.2 220.0,610.8 240.0,614.8 245.2,615.5 270.0,618.8 283.3,619.9 300.0,621.2 340.0,622.8 350.0,623.1 380.0,624.0 450.0,625.2 521.8,626.0 L521.8,583.7 Z" fill="#b4ff00"/><path d="M56.8,583.7 L56.8,583.7 83.6,583.7 92.0,583.7 100.7,583.7 107.9,583.7 113.6,583.7 123.6,583.7 124.0,583.7 129.3,583.7 137.9,583.7 146.4,583.7 150.0,583.7 155.0,583.7 163.6,583.7 171.0,583.7 172.0,583.7 177.9,583.7 180.0,583.7 186.4,583.7 195.0,590.5 200.0,594.5 205.0,602.3 218.6,607.7 220.0,608.3 240.0,612.3 245.2,613.0 270.0,616.3 283.3,617.4 300.0,618.7 340.0,620.3 350.0,620.6 380.0,621.5 450.0,622.7 521.8,623.5 L521.8,583.7 Z" fill="#f0ff00"/><path d="M56.8,583.7 L56.8,583.7 83.6,583.7 92.0,583.7 100.7,583.7 107.9,583.7 113.6,583.7 123.6,583.7 124.0,583.7 129.3,583.7 137.9,583.7 146.4,583.7 150.0,583.7 155.0,583.7 163.6,583.7 171.0,583.7 172.0,583.7 177.9,583.7 180.0,583.7 186.4,583.7 195.0,588.5 200.0,592.5 205.0,600.3 218.6,605.7 220.0,606.3 240.0,610.3 245.2,611.0 270.0,614.3 283.3,615.4 300.0,616.7 340.0,618.3 350.0,618.6 380.0,619.5 450.0,620.7 521.8,621.5 L521.8,583.7 Z" fill="#ffdc00"/><path d="M56.8,583.7 L56.8,583.7 83.6,583.7 92.0,583.7 100.7,583.7 107.9,583.7 113.6,583.7 123.6,583.7 124.0,583.7 129.3,583.7 137.9,583.7 146.4,583.7 150.0,583.7 155.0,583.7 163.6,583.7 171.0,583.7 172.0,583.7 177.9,583.7 180.0,583.7 186.4,583.7 195.0,586.5 200.0,590.5 205.0,598.3 218.6,603.7 220.0,604.3 240.0,608.3 245.2,609.0 270.0,612.3 283.3,613.4 300.0,614.7 340.0,616.3 350.0,616.6 380.0,617.5 450.0,618.7 521.8,619.5 L521.8,583.7 Z" fill="#ffaa00"/><path d="M56.8,583.7 L56.8,583.7 83.6,583.7 92.0,583.7 100.7,583.7 107.9,583.7 113.6,583.7 123.6,583.7 124.0,583.7 129.3,583.7 137.9,583.7 146.4,583.7 150.0,583.7 155.0,583.7 163.6,583.7 171.0,583.7 172.0,583.7 177.9,583.7 180.0,583.7 186.4,583.7 195.0,584.5 200.0,588.5 205.0,596.3 218.6,601.7 220.0,602.3 240.0,606.3 245.2,607.0 270.0,610.3 283.3,611.4 300.0,612.7 340.0,614.3 350.0,614.6 380.0,615.5 450.0,616.7 521.8,617.5 L521.8,583.7 Z" fill="#ff6e00"/><path d="M56.8,583.7 L56.8,583.7 83.6,583.7 92.0,583.7 100.7,583.7 107.9,583.7 113.6,583.7 123.6,583.7 124.0,583.7 129.3,583.7 137.9,583.7 146.4,583.7 150.0,583.7 155.0,583.7 163.6,583.7 171.0,583.7 172.0,583.7 177.9,583.7 180.0,583.7 186.4,583.7 195.0,583.7 200.0,586.5 205.0,594.3 218.6,599.7 220.0,600.3 240.0,604.3 245.2,605.0 270.0,608.3 283.3,609.4 300.0,610.7 340.0,612.3 350.0,612.6 380.0,613.5 450.0,614.7 521.8,615.5 L521.8,583.7 Z" fill="#ff3200"/><path d="M56.8,583.7 L56.8,583.7 83.6,583.7 92.0,583.7 100.7,583.7 107.9,583.7 113.6,583.7 123.6,583.7 124.0,583.7 129.3,583.7 137.9,583.7 146.4,583.7 150.0,583.7 155.0,583.7 163.6,583.7 171.0,583.7 172.0,583.7 177.9,583.7 180.0,583.7 186.4,583.7 195.0,583.7 200.0,585.3 205.0,593.1 218.6,598.5 220.0,599.1 240.0,603.1 245.2,603.8 270.0,607.1 283.3,608.2 300.0,609.5 340.0,611.1 350.0,611.4 380.0,612.3 450.0,613.5 521.8,614.3 L521.8,583.7 Z" fill="#ff0a00"/></g><path d="M56.8,613.7 L56.8,806.0 L521.8,806.0 M51.8,613.7 L56.8,613.7 M51.8,645.8 L56.8,645.8 M51.8,677.8 L56.8,677.8 M51.8,709.9 L56.8,709.9 M51.8,741.9 L56.8,741.9 M51.8,774.0 L56.8,774.0 M51.8,806.0 L56.8,806.0 M53.8,629.7 L56.8,629.7 M53.8,661.8 L56.8,661.8 M53.8,693.8 L56.8,693.8 M53.8,725.9 L56.8,725.9 M53.8,757.9 L56.8,757.9 M53.8,790.0 L56.8,790.0 M56.8,806.0 L56.8,811.0 M70.8,806.0 L70.8,809.0 M79.0,806.0 L79.0,809.0 M84.8,806.0 L84.8,809.0 M89.3,806.0 L89.3,809.0 M93.0,806.0 L93.0,809.0 M96.1,806.0 L96.1,809.0 M98.8,806.0 L98.8,809.0 M101.2,806.0 L101.2,809.0 M103.3,806.0 L103.3,811.0 M117.3,806.0 L117.3,809.0 M125.5,806.0 L125.5,809.0 M131.3,806.0 L131.3,809.0 M135.8,806.0 L135.8,809.0 M139.5,806.0 L139.5,809.0 M142.6,806.0 L142.6,809.0 M145.3,806.0 L145.3,809.0 M147.7,806.0 L147.7,809.0 M149.8,806.0 L149.8,811.0 M163.8,806.0 L163.8,809.0 M172.0,806.0 L172.0,809.0 M177.8,806.0 L177.8,809.0 M182.3,806.0 L182.3,809.0 M186.0,806.0 L186.0,809.0 M189.1,806.0 L189.1,809.0 M191.8,806.0 L191.8,809.0 M194.2,806.0 L194.2,809.0 M196.3,806.0 L196.3,811.0 M210.3,806.0 L210.3,809.0 M218.5,806.0 L218.5,809.0 M224.3,806.0 L224.3,809.0 M228.8,806.0 L228.8,809.0 M232.5,806.0 L232.5,809.0 M235.6,806.0 L235.6,809.0 M238.3,806.0 L238.3,809.0 M240.7,806.0 L240.7,809.0 M242.8,806.0 L242.8,811.0 M256.8,806.0 L256.8,809.0 M265.0,806.0 L265.0,809.0 M270.8,806.0 L270.8,809.0 M275.3,806.0 L275.3,809.0 M279.0,806.0 L279.0,809.0 M282.1,806.0 L282.1,809.0 M284.8,806.0 L284.8,809.0 M287.2,806.0 L287.2,809.0 M289.3,806.0 L289.3,811.0 M303.3,806.0 L303.3,809.0 M311.5,806.0 L311.5,809.0 M317.3,806.0 L317.3,809.0 M321.8,806.0 L321.8,809.0 M325.5,806.0 L325.5,809.0 M328.6,806.0 L328.6,809.0 M331.3,806.0 L331.3,809.0 M333.7,806.0 L333.7,809.0 M335.8,806.0 L335.8,811.0 M349.8,806.0 L349.8,809.0 M358.0,806.0 L358.0,809.0 M363.8,806.0 L363.8,809.0 M368.3,806.0 L368.3,809.0 M372.0,806.0 L372.0,809.0 M375.1,806.0 L375.1,809.0 M377.8,806.0 L377.8,809.0 M380.2,806.0 L380.2,809.0 M382.3,806.0 L382.3,811.0 M396.3,806.0 L396.3,809.0 M404.5,806.0 L404.5,809.0 M410.3,806.0 L410.3,809.0 M414.8,806.0 L414.8,809.0 M418.5,806.0 L418.5,809.0 M421.6,806.0 L421.6,809.0 M424.3,806.0 L424.3,809.0 M426.7,806.0 L426.7,809.0 M428.8,806.0 L428.8,811.0 M442.8,806.0 L442.8,809.0 M451.0,806.0 L451.0,809.0 M456.8,806.0 L456.8,809.0 M461.3,806.0 L461.3,809.0 M465.0,806.0 L465.0,809.0 M468.1,806.0 L468.1,809.0 M470.8,806.0 L470.8,809.0 M473.2,806.0 L473.2,809.0 M475.3,806.0 L475.3,811.0 M489.3,806.0 L489.3,809.0 M497.5,806.0 L497.5,809.0 M503.3,806.0 L503.3,809.0 M507.8,806.0 L507.8,809.0 M511.5,806.0 L511.5,809.0 M514.6,806.0 L514.6,809.0 M517.3,806.0 L517.3,809.0 M519.7,806.0 L519.7,809.0 M521.8,806.0 L521.8,811.0" fill="none" stroke="#000" stroke-width="1"/></svg><div class="t ax axy" style="right:475.5px;top:606.8px;">10.0</div><div class="t ax axy" style="right:475.5px;top:638.9px;">9.5</div><div class="t ax axy" style="right:475.5px;top:670.9px;">9.0</div><div class="t ax axy" style="right:475.5px;top:703.0px;">8.5</div><div class="t ax axy" style="right:475.5px;top:735.0px;">8.0</div><div class="t ax axy" style="right:475.5px;top:767.1px;">7.5</div><div class="t ax axy" style="right:475.5px;top:799.1px;">7.0</div><div class="t ax axx" style="left:26.8px;width:60px;text-align:center;top:815px;">1E-10</div><div class="t ax axx" style="left:73.3px;width:60px;text-align:center;top:815px;">1E-9</div><div class="t ax axx" style="left:119.8px;width:60px;text-align:center;top:815px;">1E-8</div><div class="t ax axx" style="left:166.3px;width:60px;text-align:center;top:815px;">1E-7</div><div class="t ax axx" style="left:212.8px;width:60px;text-align:center;top:815px;">1E-6</div><div class="t ax axx" style="left:259.3px;width:60px;text-align:center;top:815px;">1E-5</div><div class="t ax axx" style="left:305.8px;width:60px;text-align:center;top:815px;">1E-4</div><div class="t ax axx" style="left:352.3px;width:60px;text-align:center;top:815px;">1E-3</div><div class="t ax axx" style="left:398.8px;width:60px;text-align:center;top:815px;">0.01</div><div class="t ax axx" style="left:445.3px;width:60px;text-align:center;top:815px;">0.1</div><div class="t ax axx" style="left:491.8px;width:60px;text-align:center;top:815px;">1</div><div class="t ylab" style="left:11.6px;top:715px;">log(J [A/m<sup>2</sup>])</div>
<div class="t" style="left:12.00px;top:9.30px;font-size:23.32px;font-weight:bold;color:#000;transform:scaleX(1.0198);">(a)</div>
<div class="t" style="left:274.90px;top:9.00px;font-size:22.72px;font-weight:bold;color:#000;transform:scaleX(1.0199);">(b)</div>
<div class="t" style="left:11.30px;top:188.40px;font-size:22.60px;font-weight:bold;color:#000;transform:scaleX(1.0331);">(c)</div>
<div class="t" style="left:276.30px;top:189.40px;font-size:22.15px;font-weight:bold;color:#000;transform:scaleX(1.0233);">(d)</div>
<div class="t" style="left:11.90px;top:370.00px;font-size:22.72px;font-weight:bold;color:#000;transform:scaleX(1.0501);">(e)</div>
<div class="t" style="left:277.00px;top:365.70px;font-size:22.60px;font-weight:bold;color:#000;transform:scaleX(1.0331);">(a)</div>
<div class="t" style="left:460.70px;top:148.90px;font-size:17.86px;font-weight:bold;color:#fff;transform:scaleX(1.0961);">0.1 ns</div>
<div class="t" style="left:212.50px;top:335.00px;font-size:18.96px;font-weight:bold;color:#fff;transform:scaleX(0.9695);">5 ns</div>
<div class="t" style="left:461.90px;top:334.90px;font-size:18.00px;font-weight:bold;color:#fff;transform:scaleX(1.1084);">0.1 µs</div>
<div class="t" style="left:197.10px;top:515.10px;font-size:18.00px;font-weight:bold;color:#fff;transform:scaleX(1.1065);">1.5 µs</div>
<div class="t" style="left:484.00px;top:507.60px;font-size:19.86px;font-weight:bold;color:#000;transform:scaleX(0.9192);">1 s</div>
<div class="t" style="left:196.20px;top:2.90px;font-size:21.67px;font-weight:normal;color:#fff;transform:scaleX(0.9561);">Pt TE</div>
<div class="t" style="left:193.70px;top:41.30px;font-size:23.01px;font-weight:normal;color:#fff;transform:scaleX(0.9867);">resist</div>
<div class="t" style="left:92.90px;top:75.90px;font-size:13.69px;font-weight:normal;color:#fff;transform:scaleX(0.9276);">PCMO LAYER</div>
<div class="t" style="left:92.90px;top:94.50px;font-size:9.97px;font-weight:normal;color:#fff;transform:scaleX(1.0708);">Pt bottom electrode</div>
<div class="t" style="left:55.30px;top:116.20px;font-size:19.79px;font-weight:normal;color:#fff;transform:scaleX(1.1767);">MgO substrate</div>
<div class="t" style="left:191.60px;top:149.70px;font-size:17.32px;font-weight:normal;color:#fff;transform:scaleX(1.0617);">1.5µm</div>
<div class="t" style="left:10.00px;top:565.00px;font-size:21.91px;font-weight:bold;color:#000;transform:scaleX(0.9880);">[K]</div>
<div class="t" style="left:43.60px;top:566.40px;font-size:21.38px;font-weight:normal;color:#000;transform:scaleX(1.0752);">400</div>
<div class="t" style="left:143.70px;top:565.20px;font-size:21.76px;font-weight:normal;color:#000;transform:scaleX(1.1033);">600</div>
<div class="t" style="left:243.10px;top:565.20px;font-size:21.76px;font-weight:normal;color:#000;transform:scaleX(1.1063);">800</div>
<div class="t" style="left:337.00px;top:566.00px;font-size:21.88px;font-weight:normal;color:#000;transform:scaleX(1.0935);">1000</div>
<div class="t" style="left:436.20px;top:566.00px;font-size:21.88px;font-weight:normal;color:#000;transform:scaleX(1.1001);">1200</div>
<div class="t" style="left:56.70px;top:619.00px;font-size:22.16px;font-weight:bold;color:#fff;transform:scaleX(1.0836);">(g)</div>
<div class="t" style="left:246.10px;top:836.60px;font-size:17.87px;font-weight:bold;color:#000;transform:scaleX(1.0775);">t [s]</div>
<div class="t" style="left:3.00px;top:65.50px;font-size:16.50px;font-weight:bold;color:#FF0A0A;-webkit-text-stroke:0.5px #FF0A0A;">X</div>
</body></html>
